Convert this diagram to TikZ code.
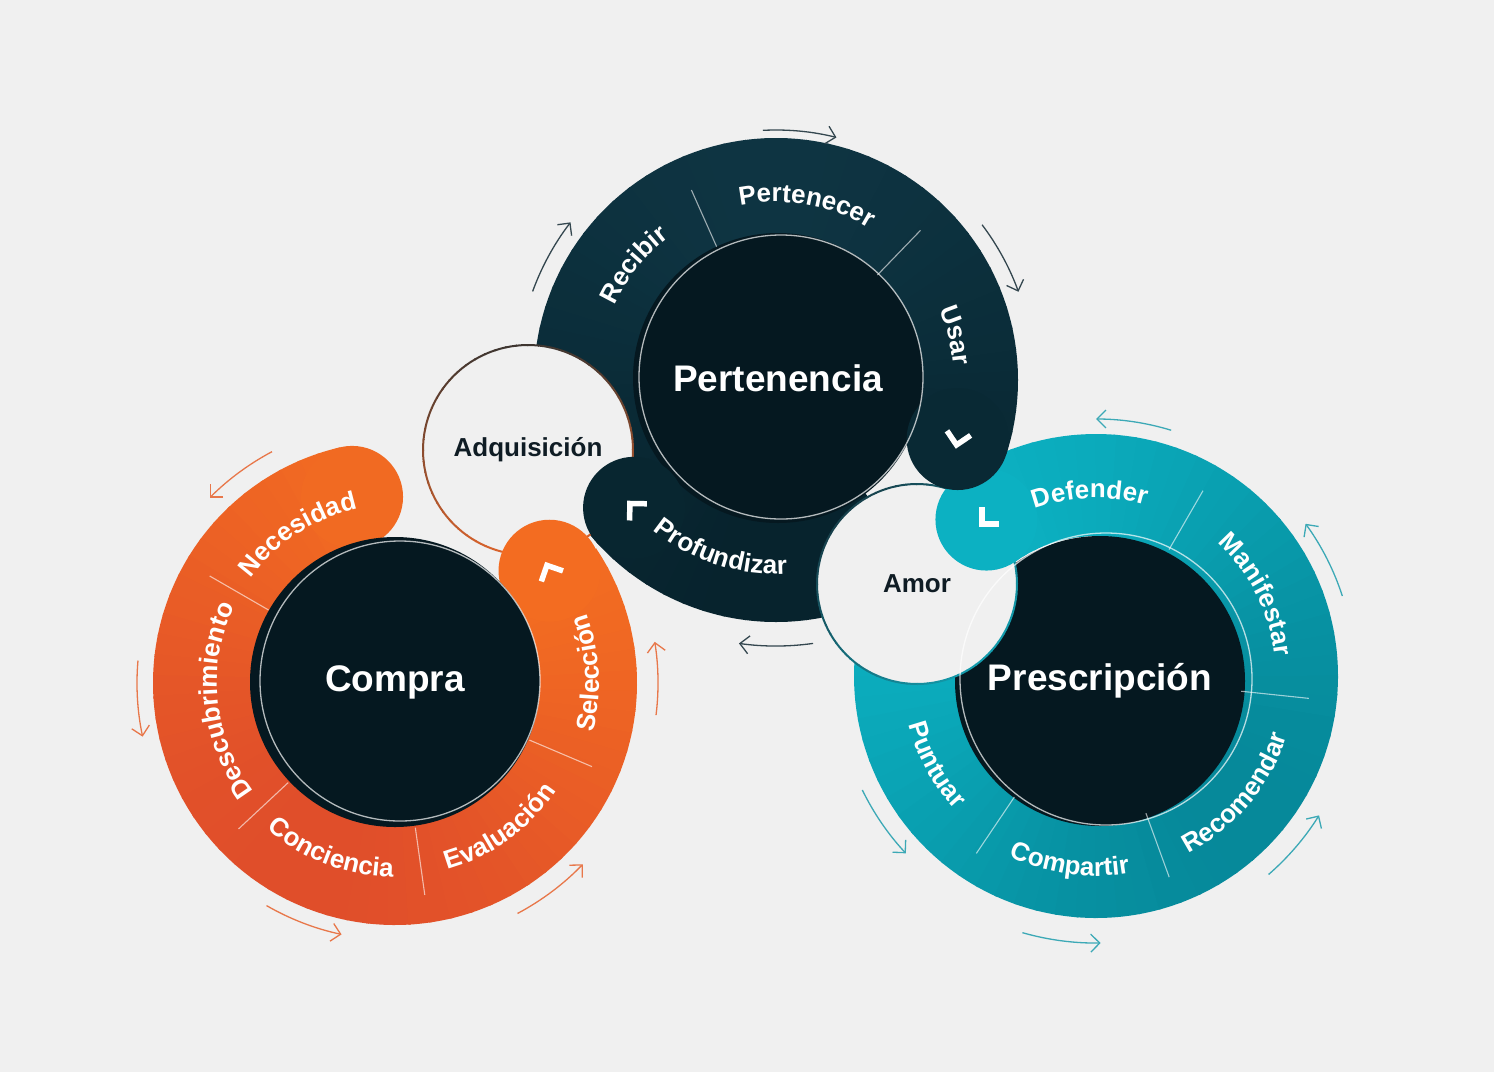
\documentclass[tikz,border=0pt]{standalone}
\usepackage{fontspec}
\setmainfont{Liberation Sans}
\usetikzlibrary{arrows.meta,decorations.text}
\definecolor{pagebg}{HTML}{F0F0F0}
\definecolor{orangelight}{HTML}{F46E21}
\definecolor{orangedark}{HTML}{E04E2A}
\definecolor{navylight}{HTML}{0E3442}
\definecolor{navydark}{HTML}{07232D}
\definecolor{teallight}{HTML}{0CB1C2}
\definecolor{tealdark}{HTML}{06899A}
\definecolor{coredark}{HTML}{051820}
\definecolor{arroworange}{HTML}{E8774A}
\definecolor{arrownavy}{HTML}{34474F}
\definecolor{arrowteal}{HTML}{3CA9B6}
\definecolor{inktext}{HTML}{0F1C24}
\definecolor{adqtop}{HTML}{3E3530}
\definecolor{adqbottom}{HTML}{DD642C}
\definecolor{amortop}{HTML}{17404B}
\definecolor{amorbottom}{HTML}{139CAD}

\begin{document}
\begin{tikzpicture}[
  x=1pt, y=1pt,
  ring/.style={line width=102pt},
  core/.style={circle, fill=coredark, minimum size=290pt, inner sep=0pt, text=white, font=\fontsize{37}{40}\selectfont\bfseries},
  rim/.style={draw=white, line width=1.3pt, opacity=0.7},
  joint/.style={circle, fill=pagebg, inner sep=0pt, text=inktext, font=\fontsize{26}{30}\selectfont\bfseries},
  divider/.style={draw=white, line width=1.1pt, opacity=0.6},
  chev/.style={draw=white, line width=5.5pt},
  flow/.style={line width=1.3pt, -{Straight Barb[length=9pt,width=18pt]}},
  ringlab/.style={decorate, decoration={text along path, text align=center,
      text={|\color{white}\fontsize{26}{30}\selectfont\bfseries|#1}}},
]
  \fill[pagebg] (0,0) rectangle (1494,-1072);
  \useasboundingbox (0,0) rectangle (1494,-1072);

  \coordinate (compra) at (395,-683);
  \coordinate (perten) at (776,-380);
  \coordinate (prescr) at (1096,-676);

  % rings that run under the white joints (shaded in short steps)
  \foreach \a [evaluate=\a as \p using int(50+50*cos(\a-135))] in {-210,-205,...,120}
    \draw[ring, teallight!\p!tealdark] ([shift={(\a:191)}]prescr) arc[start angle=\a, end angle=\a+6, radius=191];
  \foreach \a [evaluate=\a as \p using int(50+50*sin(\a))] in {-18,-13,...,303}
    \draw[ring, navylight!\p!navydark] ([shift={(\a:191)}]perten) arc[start angle=\a, end angle=\a+6, radius=191];

  \node[core] (pertCore) at (778,-378) {Pertenencia};
  \node[core] (prescCore) at (1100,-681) {Prescripción};

  % joints between the cycles
  \node[joint, minimum size=210pt] (adq) at (528,-450) {Adquisición};
  \node[joint, minimum size=200pt] (amor) at (917,-584) {Amor};
  \foreach \a [evaluate=\a as \p using int(50-50*sin(\a))] in {0,6,...,354}
    \draw[adqbottom!\p!adqtop, line width=2pt] ([shift={(\a:105)}]adq.center) arc[start angle=\a, end angle=\a+6.5, radius=105];
  \foreach \a [evaluate=\a as \p using int(50-50*sin(\a-45))] in {0,6,...,354}
    \draw[amorbottom!\p!amortop, line width=2pt] ([shift={(\a:100)}]amor.center) arc[start angle=\a, end angle=\a+6.5, radius=100];

  % end caps over the joints
  \fill[navylight!16!navydark] ([shift={(222:191)}]perten) circle[radius=51];
  \fill[teallight!99!tealdark] ([shift={(125:191)}]prescr) circle[radius=51];
  \fill[navylight!34!navydark] ([shift={(-18:191)}]perten) circle[radius=51];

  \foreach \a [evaluate=\a as \p using int(50+50*cos(\a-60))] in {103,108,...,390}
    \draw[ring, orangelight!\p!orangedark] ([shift={(\a:191)}]compra) arc[start angle=\a, end angle=\a+6, radius=191];
  \fill[orangelight!86!orangedark] ([shift={(103:191)}]compra) circle[radius=51];
  \fill[orangelight!95!orangedark] ([shift={(396:191)}]compra) circle[radius=51];
  \node[core] (compraCore) at (395,-682) {Compra};

  \draw[rim] ([shift={(5,1)}]compraCore.center) circle[radius=140];
  \draw[rim] ([shift={(3,1)}]pertCore.center) circle[radius=142];
  \draw[rim] ([shift={(6,2)}]prescCore.center) circle[radius=146];

  % dividers
  \foreach \a in {150,223,278,337}
    \draw[divider] ([shift={(\a:146)}]compra) -- ([shift={(\a:214)}]compra);
  \foreach \a in {114,46}
    \draw[divider] ([shift={(\a:146)}]perten) -- ([shift={(\a:208)}]perten);
  \foreach \a in {60,-6,-70,236}
    \draw[divider] ([shift={(\a:146)}]prescr) -- ([shift={(\a:214)}]prescr);

  % chevrons
  \coordinate (chevSel) at ([shift={(36:191)}]compra);
  \coordinate (chevProf) at ([shift={(222:191)}]perten);
  \coordinate (chevUsar) at ([shift={(-18:191)}]perten);
  \coordinate (chevDef) at ([shift={(125:191)}]prescr);
  \foreach \c/\d in {chevSel/116, chevProf/134, chevUsar/-101, chevDef/225}
    \draw[chev] ([shift={(\d:6)}]\c) ++(\d+135:17) -- ([shift={(\d:6)}]\c) -- ++(\d-135:17);

  % ring labels
  \path[ringlab={Necesidad}] ([shift={(183:178)}]compra) arc[start angle=183, end angle=63, radius=178];
  \path[ringlab={Descubrimiento}] ([shift={(246:178)}]compra) arc[start angle=246, end angle=126, radius=178];
  \path[ringlab={Conciencia}] ([shift={(189:194)}]compra) arc[start angle=189, end angle=309, radius=194];
  \path[ringlab={Evaluación}] ([shift={(246:194)}]compra) arc[start angle=246, end angle=366, radius=194];
  \path[ringlab={Selección}] ([shift={(-57:204)}]compra) arc[start angle=-57, end angle=63, radius=204];

  \path[ringlab={Recibir}] ([shift={(201:178)}]perten) arc[start angle=201, end angle=81, radius=178];
  \path[ringlab={Pertenecer}] ([shift={(140:178)}]perten) arc[start angle=140, end angle=20, radius=178];
  \path[ringlab={Usar}] ([shift={(74:178)}]perten) arc[start angle=74, end angle=-46, radius=178];
  \path[ringlab={Profundizar}] ([shift={(192:194)}]perten) arc[start angle=192, end angle=312, radius=194];

  \path[ringlab={Defender}] ([shift={(152:178)}]prescr) arc[start angle=152, end angle=32, radius=178];
  \path[ringlab={Manifestar}] ([shift={(87:180)}]prescr) arc[start angle=87, end angle=-33, radius=180];
  \path[ringlab={Recomendar}] ([shift={(-100:200)}]prescr) arc[start angle=-100, end angle=20, radius=200];
  \path[ringlab={Compartir}] ([shift={(202:200)}]prescr) arc[start angle=202, end angle=322, radius=200];
  \path[ringlab={Puntuar}] ([shift={(149:194)}]prescr) arc[start angle=149, end angle=269, radius=194];

  % flow arrows
  \draw[flow, arroworange] ([shift={(118:262)}]compra) arc[start angle=118, end angle=135, radius=262];
  \draw[flow, arroworange] ([shift={(175:258)}]compra) arc[start angle=175, end angle=192, radius=258];
  \draw[flow, arroworange] ([shift={(240:257)}]compra) arc[start angle=240, end angle=258, radius=257];
  \draw[flow, arroworange] ([shift={(298:261)}]compra) arc[start angle=298, end angle=316, radius=261];
  \draw[flow, arroworange] ([shift={(-7:263)}]compra) arc[start angle=-7, end angle=9, radius=263];

  \draw[flow, arrownavy] ([shift={(93:250)}]perten) arc[start angle=93, end angle=76, radius=250];
  \draw[flow, arrownavy] ([shift={(160:259)}]perten) arc[start angle=160, end angle=142.5, radius=259];
  \draw[flow, arrownavy] ([shift={(37:258)}]perten) arc[start angle=37, end angle=20, radius=258];
  \draw[flow, arrownavy] ([shift={(278:266)}]perten) arc[start angle=278, end angle=262, radius=266];

  \draw[flow, arrowteal] ([shift={(73:257)}]prescr) arc[start angle=73, end angle=90, radius=257];
  \draw[flow, arrowteal] ([shift={(18:259)}]prescr) arc[start angle=18, end angle=36, radius=259];
  \draw[flow, arrowteal] ([shift={(-49:263)}]prescr) arc[start angle=-49, end angle=-32, radius=263];
  \draw[flow, arrowteal] ([shift={(254:267)}]prescr) arc[start angle=254, end angle=271, radius=267];
  \draw[flow, arrowteal] ([shift={(206:260)}]prescr) arc[start angle=206, end angle=223, radius=260];
\end{tikzpicture}
\end{document}
